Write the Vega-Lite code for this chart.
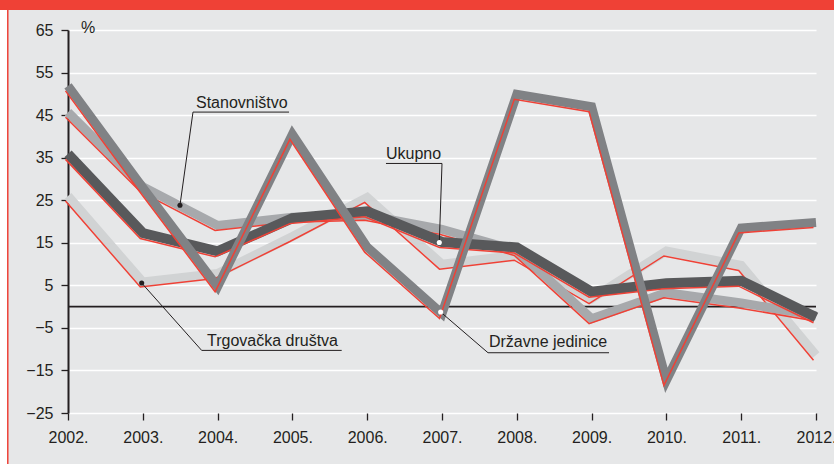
{
  "$schema": "https://vega.github.io/schema/vega-lite/v6.json",
  "width": 748,
  "height": 383,
  "autosize": {"type": "none"},
  "padding": {"left": 68, "top": 30, "right": 18, "bottom": 51},
  "background": "#e6e7e8",
  "config": {"view": {"stroke": null}, "font": "Liberation Sans"},
  "datasets": {
    "series": [
      {"s": "Trg", "year": 2002, "value": 24.8}, {"s": "Trg", "year": 2003, "value": 4.6}, {"s": "Trg", "year": 2004, "value": 6.6},
      {"s": "Trg", "year": 2005, "value": 15.3}, {"s": "Trg", "year": 2006, "value": 24.5}, {"s": "Trg", "year": 2007, "value": 8.8},
      {"s": "Trg", "year": 2008, "value": 10.9}, {"s": "Trg", "year": 2009, "value": 0.7}, {"s": "Trg", "year": 2010, "value": 11.9},
      {"s": "Trg", "year": 2011, "value": 8.5}, {"s": "Trg", "year": 2012, "value": -12.6},
      {"s": "Sta", "year": 2002, "value": 44.5}, {"s": "Sta", "year": 2003, "value": 27.0}, {"s": "Sta", "year": 2004, "value": 17.9},
      {"s": "Sta", "year": 2005, "value": 19.8}, {"s": "Sta", "year": 2006, "value": 20.3}, {"s": "Sta", "year": 2007, "value": 17.0},
      {"s": "Sta", "year": 2008, "value": 12.0}, {"s": "Sta", "year": 2009, "value": -4.0}, {"s": "Sta", "year": 2010, "value": 2.1},
      {"s": "Sta", "year": 2011, "value": -0.3}, {"s": "Sta", "year": 2012, "value": -3.3},
      {"s": "Uku", "year": 2002, "value": 34.6}, {"s": "Uku", "year": 2003, "value": 16.0}, {"s": "Uku", "year": 2004, "value": 11.7},
      {"s": "Uku", "year": 2005, "value": 19.5}, {"s": "Uku", "year": 2006, "value": 21.1}, {"s": "Uku", "year": 2007, "value": 13.9},
      {"s": "Uku", "year": 2008, "value": 12.6}, {"s": "Uku", "year": 2009, "value": 2.2}, {"s": "Uku", "year": 2010, "value": 4.2},
      {"s": "Uku", "year": 2011, "value": 4.8}, {"s": "Uku", "year": 2012, "value": -3.8},
      {"s": "Drz", "year": 2002, "value": 50.7}, {"s": "Drz", "year": 2003, "value": 26.8}, {"s": "Drz", "year": 2004, "value": 3.5},
      {"s": "Drz", "year": 2005, "value": 39.3}, {"s": "Drz", "year": 2006, "value": 12.8}, {"s": "Drz", "year": 2007, "value": -2.8},
      {"s": "Drz", "year": 2008, "value": 48.7}, {"s": "Drz", "year": 2009, "value": 45.8}, {"s": "Drz", "year": 2010, "value": -18.5},
      {"s": "Drz", "year": 2011, "value": 17.3}, {"s": "Drz", "year": 2012, "value": 18.6}
    ],
    "zero": [{"year": 2002, "year2": 2012, "value": 0, "value2": 0}],
    "frame": [
      {"year": 2000.8, "year2": 2012.5, "value": 69.7, "value2": 76, "c": "#ef4136"},
      {"year": 2000.8, "year2": 2001.185, "value": -42, "value2": 69.7, "c": "#ffffff"},
      {"year": 2001.185, "year2": 2001.205, "value": -42, "value2": 69.7, "c": "#ef4136"}
    ],
    "leaders": [
      {"year": 2003.671, "value": 45.71, "year2": 2004.955, "value2": 45.71},
      {"year": 2003.671, "value": 45.71, "year2": 2003.497, "value2": 23.82},
      {"year": 2006.251, "value": 33.64, "year2": 2007.0, "value2": 33.64},
      {"year": 2007.0, "value": 33.64, "year2": 2006.964, "value2": 15.05},
      {"year": 2003.787, "value": -10.29, "year2": 2005.659, "value2": -10.29},
      {"year": 2003.787, "value": -10.29, "year2": 2002.985, "value2": 5.54},
      {"year": 2007.615, "value": -10.84, "year2": 2009.233, "value2": -10.84},
      {"year": 2007.615, "value": -10.84, "year2": 2006.982, "value2": -1.28}
    ],
    "dots": [
      {"year": 2003.497, "value": 23.82, "c": "#231f20"},
      {"year": 2002.985, "value": 5.54, "c": "#231f20"},
      {"year": 2006.964, "value": 15.05, "c": "#ffffff"},
      {"year": 2006.982, "value": -1.28, "c": "#ffffff"}
    ],
    "labels": [
      {"year": 2003.711, "value": 46.65, "t": "Stanovništvo"},
      {"year": 2006.251, "value": 34.65, "t": "Ukupno"},
      {"year": 2003.858, "value": -9.2, "t": "Trgovačka društva"},
      {"year": 2007.628, "value": -9.5, "t": "Državne jedinice"},
      {"year": 2002.174, "value": 64.3, "t": "%"}
    ]
  },
  "encoding": {
    "x": {
      "field": "year", "type": "quantitative",
      "scale": {"domain": [2002, 2012], "nice": false, "zero": false},
      "axis": {
        "title": null, "values": [2002, 2003, 2004, 2005, 2006, 2007, 2008, 2009, 2010, 2011, 2012],
        "labelExpr": "datum.value + '.'", "domain": false, "grid": false,
        "tickColor": "#231f20", "tickSize": 7, "tickWidth": 1.3,
        "labelFontSize": 16, "labelColor": "#231f20", "labelPadding": 9,
        "labelFlush": false, "labelOverlap": false
      }
    },
    "y": {
      "field": "value", "type": "quantitative",
      "scale": {"domain": [-25, 65], "nice": false, "zero": false},
      "axis": {
        "title": null, "values": [-25, -15, -5, 5, 15, 25, 35, 45, 55, 65],
        "labelExpr": "datum.value < 0 ? '−' + abs(datum.value) : '' + datum.value",
        "domain": true, "domainColor": "#231f20", "domainWidth": 2,
        "grid": true, "gridColor": "#ffffff", "gridWidth": 1.5, "gridOpacity": 1,
        "tickColor": "#231f20", "tickSize": 7, "tickWidth": 1.3,
        "labelFontSize": 16, "labelColor": "#231f20", "labelPadding": 8,
        "labelFlush": false, "labelOverlap": false
      }
    }
  },
  "layer": [
    {
      "data": {"name": "frame"},
      "mark": {"type": "rect", "clip": false},
      "encoding": {
        "x2": {"field": "year2"}, "y2": {"field": "value2"},
        "color": {"field": "c", "type": "nominal", "scale": null}
      }
    },
    {
      "data": {"name": "zero"},
      "mark": {"type": "rule", "color": "#231f20", "strokeWidth": 1.8},
      "encoding": {"x2": {"field": "year2"}, "y2": {"field": "value2"}}
    },
    {
      "data": {"name": "series"},
      "transform": [{"filter": "datum.s == 'Trg'"}],
      "mark": {"type": "line", "color": "#d1d3d4", "strokeWidth": 9, "strokeJoin": "miter", "strokeCap": "butt", "yOffset": -5},
      "encoding": {}
    },
    {
      "data": {"name": "series"},
      "transform": [{"filter": "datum.s == 'Trg'"}],
      "mark": {"type": "line", "color": "#ef4136", "strokeWidth": 1.5, "xOffset": -2.5},
      "encoding": {}
    },
    {
      "data": {"name": "series"},
      "transform": [{"filter": "datum.s == 'Sta'"}],
      "mark": {"type": "line", "color": "#a7a9ac", "strokeWidth": 9, "strokeJoin": "miter", "strokeCap": "butt", "yOffset": -5},
      "encoding": {}
    },
    {
      "data": {"name": "series"},
      "transform": [{"filter": "datum.s == 'Sta'"}],
      "mark": {"type": "line", "color": "#ef4136", "strokeWidth": 1.5, "xOffset": -2.5},
      "encoding": {}
    },
    {
      "data": {"name": "series"},
      "transform": [{"filter": "datum.s == 'Uku'"}],
      "mark": {"type": "line", "color": "#58595b", "strokeWidth": 10, "strokeJoin": "miter", "strokeCap": "butt", "yOffset": -5.5},
      "encoding": {}
    },
    {
      "data": {"name": "series"},
      "transform": [{"filter": "datum.s == 'Uku'"}],
      "mark": {"type": "line", "color": "#ef4136", "strokeWidth": 1.5, "xOffset": -2.5},
      "encoding": {}
    },
    {
      "data": {"name": "series"},
      "transform": [{"filter": "datum.s == 'Drz'"}],
      "mark": {"type": "line", "color": "#808285", "strokeWidth": 9, "strokeJoin": "miter", "strokeCap": "butt", "yOffset": -5},
      "encoding": {}
    },
    {
      "data": {"name": "series"},
      "transform": [{"filter": "datum.s == 'Drz'"}],
      "mark": {"type": "line", "color": "#ef4136", "strokeWidth": 1.5, "xOffset": -2.5},
      "encoding": {}
    },
    {
      "data": {"name": "leaders"},
      "mark": {"type": "rule", "color": "#231f20", "strokeWidth": 1},
      "encoding": {"x2": {"field": "year2"}, "y2": {"field": "value2"}}
    },
    {
      "data": {"name": "dots"},
      "mark": {"type": "point", "filled": true, "size": 26, "opacity": 1},
      "encoding": {"color": {"field": "c", "type": "nominal", "scale": null}}
    },
    {
      "data": {"name": "labels"},
      "mark": {"type": "text", "align": "left", "baseline": "alphabetic", "fontSize": 16, "color": "#231f20"},
      "encoding": {"text": {"field": "t"}}
    }
  ]
}
